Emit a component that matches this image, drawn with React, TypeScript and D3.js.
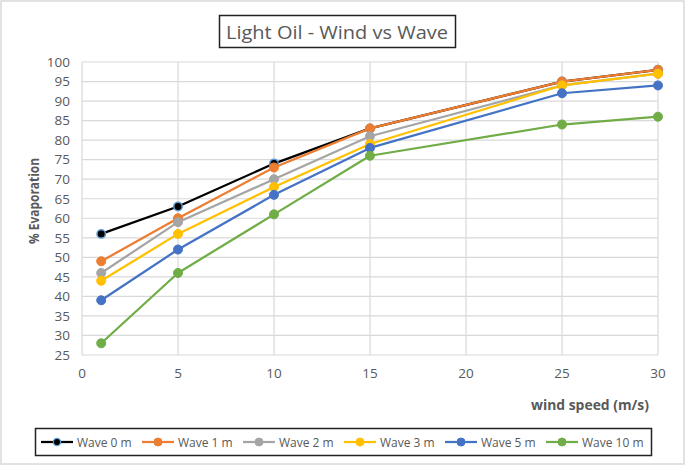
import React from "react";
import * as d3 from "d3";

const windSpeeds = [1, 5, 10, 15, 25, 30];
const seriesNames = ["Wave 0 m", "Wave 1 m", "Wave 2 m", "Wave 3 m", "Wave 5 m", "Wave 10 m"];
const wave0 = [56, 63, 74, 83, 95, 98];
const wave1 = [49, 60, 73, 83, 95, 98];
const wave2 = [46, 59, 70, 81, 94, 97];
const wave3 = [44, 56, 68, 79, 94, 97];
const wave5 = [39, 52, 66, 78, 92, 94];
const wave10 = [28, 46, 61, 76, 84, 86];
const xTicks = [0, 5, 10, 15, 20, 25, 30];
const yTicks = [25, 30, 35, 40, 45, 50, 55, 60, 65, 70, 75, 80, 85, 90, 95, 100];

const seriesValues = [wave0, wave1, wave2, wave3, wave5, wave10];
const lineColors = ["#000000", "#ED7D31", "#A5A5A5", "#FFC000", "#4472C4", "#70AD47"];
const markerStroke = ["#5B9BD5", "#ED7D31", "#A5A5A5", "#FFC000", "#4472C4", "#70AD47"];

const W = 685, H = 465;
const plot = { left: 82, right: 658, top: 62, bottom: 355 };
const FONT = "'Open Sans', 'Noto Sans', sans-serif";

export default function App() {
  const x = d3.scaleLinear().domain([0, 30]).range([plot.left, plot.right]);
  const y = d3.scaleLinear().domain([25, 100]).range([plot.bottom, plot.top]);
  const line = d3.line<number>().x((_, i) => x(windSpeeds[i])).y((d) => y(d));

  return (
    <svg width={W} height={H} style={{ position: "absolute", left: 0, top: 0 }} xmlns="http://www.w3.org/2000/svg">
      <rect x={0} y={0} width={W} height={H} fill="#fff" />
      <rect x={1} y={1} width={W - 2} height={H - 2} fill="none" stroke="#d9d9d9" strokeWidth={1.5} />

      {/* title */}
      <rect x={219.5} y={15.5} width={236} height={32} fill="#fff" stroke="#222" strokeWidth={1.5} />
      <text x={337} y={39} textAnchor="middle" fontFamily={FONT} fontSize={19} fill="#595959" textLength={222} lengthAdjust="spacingAndGlyphs">
        Light Oil - Wind vs Wave
      </text>

      {/* grid */}
      {yTicks.map((t) => (
        <line key={"gy" + t} x1={plot.left} x2={plot.right} y1={y(t)} y2={y(t)} stroke="#d9d9d9" strokeWidth={1.2} />
      ))}
      {xTicks.map((t) => (
        <line key={"gx" + t} x1={x(t)} x2={x(t)} y1={plot.top} y2={plot.bottom} stroke="#d9d9d9" strokeWidth={1.2} />
      ))}

      {/* tick labels */}
      {yTicks.map((t) => (
        <text key={"ty" + t} x={70} y={y(t) + 4.8} textAnchor="end" fontFamily={FONT} fontSize={13.5} fill="#595959">
          {t}
        </text>
      ))}
      {xTicks.map((t) => (
        <text key={"tx" + t} x={x(t)} y={378} textAnchor="middle" fontFamily={FONT} fontSize={13.5} fill="#595959">
          {t}
        </text>
      ))}

      {/* axis titles */}
      <text
        transform={`translate(39, 201) rotate(-90)`}
        textAnchor="middle"
        fontFamily={FONT}
        fontSize={14}
        fontWeight="bold"
        fill="#595959"
        textLength={86}
        lengthAdjust="spacingAndGlyphs"
      >
        % Evaporation
      </text>
      <text x={590} y={410} textAnchor="middle" fontFamily={FONT} fontSize={14} fontWeight="bold" fill="#595959" textLength={118} lengthAdjust="spacingAndGlyphs">
        wind speed (m/s)
      </text>

      {/* series */}
      {seriesValues.map((vals, si) => (
        <g key={"s" + si}>
          <path d={line(vals) || ""} fill="none" stroke={lineColors[si]} strokeWidth={2.25} strokeLinejoin="round" />
          {vals.map((v, i) => (
            <circle
              key={i}
              cx={x(windSpeeds[i])}
              cy={y(v)}
              r={si === 0 ? 4.2 : 4.5}
              fill={lineColors[si]}
              stroke={markerStroke[si]}
              strokeWidth={si === 0 ? 1.5 : 1}
            />
          ))}
        </g>
      ))}

      {/* legend */}
      <rect x={35.5} y={428.5} width={616} height={27} fill="#fff" stroke="#222" strokeWidth={1.5} />
      {seriesNames.map((name, i) => {
        const lx = 41 + i * 101;
        const cy = 442;
        return (
          <g key={"lg" + i}>
            <line x1={lx} x2={lx + 32} y1={cy} y2={cy} stroke={lineColors[i]} strokeWidth={2.25} />
            <circle cx={lx + 16} cy={cy} r={i === 0 ? 3.6 : 4} fill={lineColors[i]} stroke={markerStroke[i]} strokeWidth={i === 0 ? 1.3 : 1} />
            <text x={lx + 36} y={cy + 4.5} fontFamily={FONT} fontSize={12} fill="#595959">
              {name}
            </text>
          </g>
        );
      })}
    </svg>
  );
}
